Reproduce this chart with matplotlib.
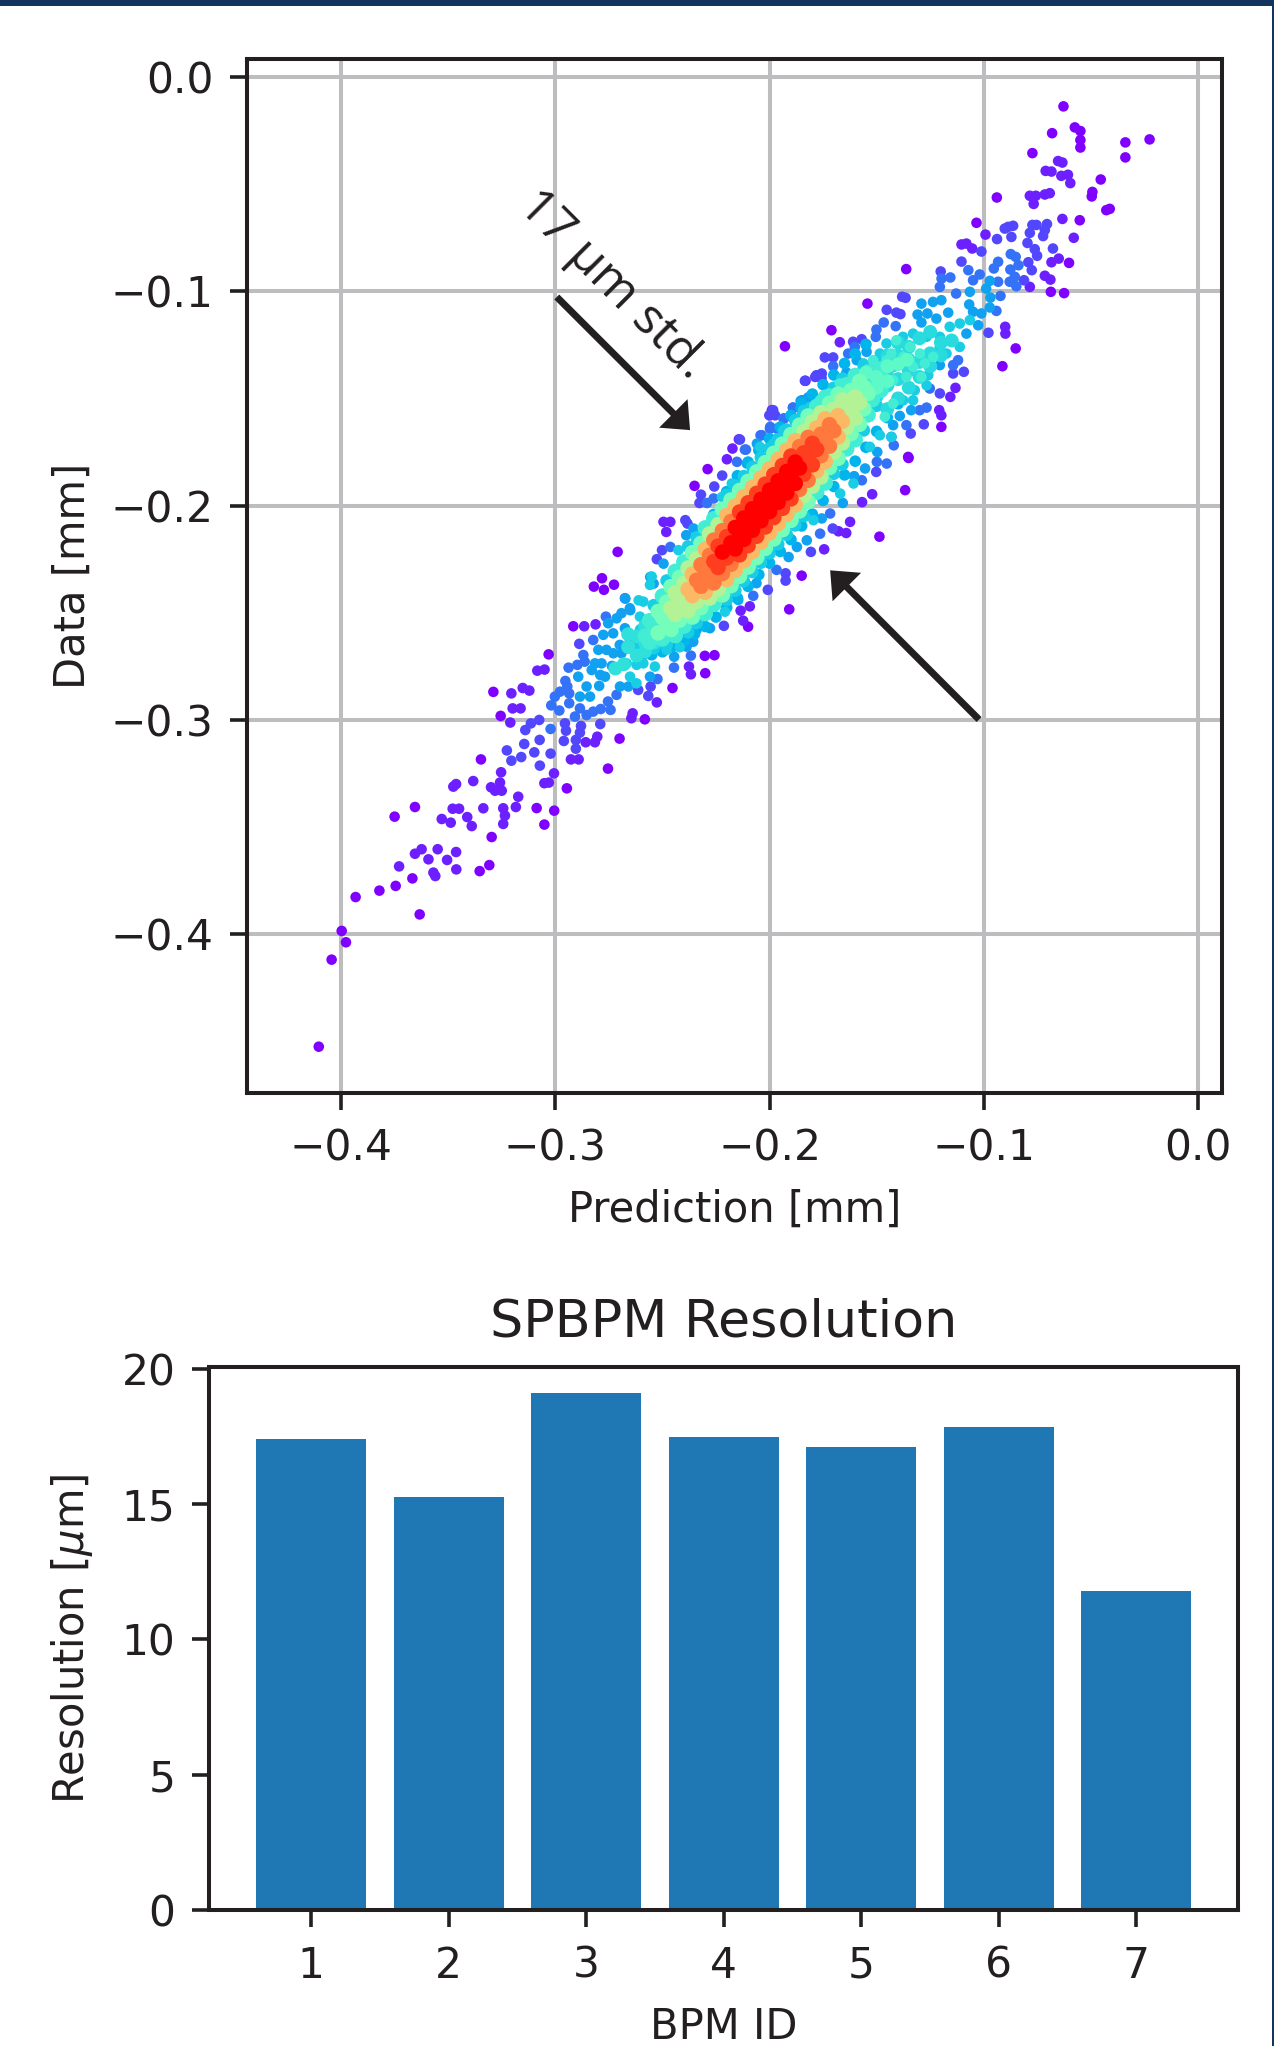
import numpy as np
import matplotlib
matplotlib.use("Agg")
import matplotlib.pyplot as plt
from matplotlib.patches import Rectangle

# scatter points, grouped by how dense the colour looks
violet_points = [
    (-.0628,-.0138),(-.0575,-.0236),(-.0549,-.0253),(-.0549,-.0295),(-.0549,-.0330),(-.0681,-.0263),
    (-.0339,-.0306),(-.0226,-.0292),(-.0339,-.0376),(-.0773,-.0356),(-.0454,-.0479),(-.0493,-.0537),
    (-.0496,-.0558),(-.0428,-.0622),(-.0412,-.0616),(-.0939,-.0563),(-.0552,-.0669),(-.1034,-.0681),
    (-.0602,-.0868),(-.0687,-.1003),(-.0625,-.1009),(-.1362,-.0897),(-.1543,-.1058),(-.0851,-.1267),
    (-.0913,-.1350),(-.1711,-.1182),(-.1928,-.1257),(-.1198,-.1633),(-.1353,-.1773),(-.1351,-.1778),
    (-.1367,-.1928),(-.1487,-.2145),(-.1850,-.2327),(-.1908,-.2484),(-.2100,-.2565),(-.2300,-.2782),
    (-.2302,-.2701),(-.2257,-.2698),(-.2453,-.2851),(-.2582,-.2997),(-.2700,-.3087),(-.2754,-.3227),
    (-.2946,-.3319),(-.2782,-.2339),(-.2820,-.2378),(-.2773,-.2393),(-.2726,-.2369),(-.2916,-.2563),
    (-.3031,-.2694),(-.3289,-.2869),(-.3255,-.2981),(-.3347,-.3184),(-.3087,-.3411),(-.3005,-.3423),
    (-.3051,-.3488),(-.3297,-.3546),(-.3353,-.3705),(-.3308,-.3677),(-.3750,-.3451),(-.3655,-.3406),
    (-.3633,-.3907),(-.3932,-.3826),(-.3821,-.3796),(-.3745,-.3774),(-.3667,-.3739),(-.3997,-.3984),
    (-.3977,-.4037),(-.4044,-.4118),(-.4104,-.4524),(-.2709,-.2216),(-.2289,-.1830),(-.2350,-.1908),
]
purple_points = [
    (-.0653,-.0393),(-.0633,-.0400),(-.0711,-.0439),(-.0684,-.0442),(-.0638,-.0462),(-.0607,-.0457),
    (-.0596,-.0496),(-.0785,-.0555),(-.0757,-.0555),(-.0767,-.0593),(-.0715,-.0549),(-.0692,-.0543),
    (-.0633,-.0663),(-.0992,-.0736),(-.0580,-.0751),(-.1104,-.0782),(-.1081,-.0778),(-.1054,-.0801),
    (-.0650,-.0848),(-.0684,-.0865),(-.0715,-.0928),(-.0689,-.0946),(-.0785,-.0980),(-.0900,-.1166),
    (-.0899,-.1198),(-.1672,-.1238),(-.1208,-.1555),(-.1198,-.1579),(-.1156,-.1493),(-.1132,-.1451),
    (-.2143,-.1691),(-.2173,-.1734),(-.2199,-.1784),(-.1989,-.1555),(-.1832,-.1418),(-.2495,-.2076),
    (-.2463,-.2076),(-.2482,-.2123),(-.1521,-.1947),(-.1568,-.1984),(-.1624,-.2076),(-.1678,-.2120),
    (-.1642,-.2128),(-.1745,-.2204),(-.2123,-.2537),(-.2135,-.2490),(-.2092,-.2470),(-.2367,-.2787),
    (-.2376,-.2751),(-.2526,-.2918),(-.2639,-.2969),(-.2645,-.2992),(-.2812,-.2554),(-.2865,-.2563),
    (-.3084,-.2770),(-.3050,-.2765),(-.3205,-.2876),(-.3152,-.2851),(-.3121,-.2863),(-.3199,-.2946),
    (-.3162,-.2946),(-.3210,-.3012),(-.2927,-.3184),(-.2891,-.3184),(-.2858,-.3104),(-.2815,-.3104),
    (-.2804,-.3078),(-.3051,-.3295),(-.3030,-.3292),(-.3006,-.3249),(-.3253,-.3244),(-.3258,-.3292),
    (-.3300,-.3314),(-.3281,-.3330),(-.3250,-.3330),(-.3173,-.3358),(-.3184,-.3406),(-.3336,-.3412),
    (-.3243,-.3412),(-.3235,-.3446),(-.3243,-.3485),(-.3476,-.3311),(-.3463,-.3299),(-.3383,-.3285),
    (-.3530,-.3462),(-.3488,-.3479),(-.3479,-.3414),(-.3449,-.3414),(-.3411,-.3453),(-.3390,-.3495),
    (-.3729,-.3683),(-.3655,-.3624),(-.3624,-.3603),(-.3549,-.3603),(-.3592,-.3650),(-.3505,-.3653),
    (-.3463,-.3616),(-.3462,-.3697),(-.3569,-.3712),(-.3560,-.3728),
]
indigo_points = [
    (-.0902,-.0708),(-.0886,-.0700),(-.0863,-.0695),(-.0773,-.0691),(-.0754,-.0691),(-.0705,-.0687),
    (-.0785,-.0728),(-.0715,-.0715),(-.0723,-.0743),(-.0938,-.0757),(-.0871,-.0747),(-.0796,-.0775),
    (-.0762,-.0804),(-.0751,-.0835),(-.0677,-.0801),(-.1011,-.0815),(-.1104,-.0862),(-.0792,-.0865),
    (-.0776,-.0902),(-.0812,-.0949),(-.1201,-.0908),(-.1381,-.1026),(-.1365,-.1031),(-.1453,-.1087),
    (-.1408,-.1100),(-.1389,-.1107),(-.0978,-.1194),(-.1143,-.1384),(-.1093,-.1376),(-.1205,-.1477),
    (-.1280,-.1621),(-.1341,-.1664),(-.1570,-.1224),(-.1610,-.1236),(-.1742,-.1309),(-.1703,-.1309),
    (-.1835,-.1418),(-.1781,-.1392),(-.1757,-.1407),(-.1983,-.1555),(-.2001,-.1579),(-.2138,-.1692),
    (-.1974,-.1579),(-.1787,-.1400),(-.1756,-.1384),(-.2221,-.1860),(-.2258,-.1911),(-.2320,-.1949),
    (-.2327,-.1988),(-.2393,-.2068),(-.2383,-.2084),(-.2502,-.2208),(-.2526,-.2250),(-.1502,-.1843),
    (-.1705,-.2107),(-.1807,-.2216),(-.2008,-.2393),(-.1925,-.2316),(-.1925,-.2350),(-.2566,-.2888),
    (-.2613,-.2860),(-.2555,-.2844),(-.2790,-.3019),(-.2880,-.3028),(-.2955,-.3016),(-.2950,-.3050),
    (-.2885,-.3059),(-.2960,-.3098),(-.2904,-.3093),(-.2904,-.3134),(-.3114,-.3016),(-.3075,-.3000),
    (-.3140,-.3047),(-.3145,-.3112),(-.3073,-.3093),(-.3226,-.3142),(-.3098,-.3151),(-.3022,-.3157),
    (-.3159,-.3173),(-.3205,-.3190),(-.3072,-.3213),(-.2888,-.2645),(-.2213,-.2561),
]
blue_points = [
    (-.0874,-.0827),(-.0851,-.0840),(-.0838,-.0879),(-.0876,-.0899),(-.0879,-.0956),(-.0848,-.0977),
    (-.0855,-.0933),(-.1156,-.0936),(-.1197,-.0941),(-.1072,-.0902),(-.1019,-.0922),(-.1050,-.0949),
    (-.1205,-.0980),(-.1129,-.1011),(-.0941,-.1092),(-.1467,-.1146),(-.1501,-.1179),(-.1504,-.1213),
    (-.1703,-.1350),(-.1633,-.1291),(-.1602,-.1260),(-.1120,-.1322),(-.1143,-.1345),(-.1252,-.1454),
    (-.1267,-.1543),(-.1299,-.1555),(-.1361,-.1625),(-.1420,-.1719),(-.1431,-.1680),(-.1932,-.1594),
    (-.1890,-.1543),(-.1998,-.1641),(-.2042,-.1672),(-.2115,-.1739),(-.1411,-.1163),(-.0922,-.1022),
    (-.0933,-.0956),(-.0953,-.0894),(-.0933,-.0863),(-.2110,-.1739),(-.2152,-.1796),(-.2036,-.1672),
    (-.1935,-.1594),(-.1997,-.1633),(-.1966,-.1641),(-.1891,-.1543),(-.1849,-.1509),(-.1818,-.1496),
    (-.2292,-.1988),(-.2261,-.1967),(-.2463,-.2193),(-.1453,-.1804),(-.1569,-.1882),(-.1499,-.1796),
    (-.1717,-.2037),(-.1764,-.2131),(-.2076,-.2421),(-.1967,-.2300),(-.3022,-.3042),(-.3019,-.2932),
    (-.2981,-.2956),(-.3002,-.2891),(-.2978,-.2868),(-.2953,-.2818),(-.2944,-.2844),(-.2935,-.2876),
    (-.2938,-.2756),(-.2897,-.2743),(-.2869,-.2697),(-.2863,-.2728),(-.2935,-.2922),(-.2908,-.2984),
    (-.2885,-.2946),(-.2854,-.2977),(-.2823,-.2961),(-.2788,-.2949),(-.2742,-.2953),(-.2754,-.2914),
    (-.2714,-.2883),(-.2523,-.2809),(-.2446,-.2756),(-.2367,-.2700),(-.2823,-.2627),(-.2764,-.2518),
    (-.2675,-.2432),
]
azure_points = [
    (-.0972,-.0952),(-.1065,-.1003),(-.0989,-.0988),(-.0969,-.1030),(-.1291,-.1058),(-.1237,-.1050),
    (-.1198,-.1042),(-.1068,-.1062),(-.0972,-.1076),(-.1309,-.1109),(-.1263,-.1104),(-.1221,-.1128),
    (-.1166,-.1100),(-.1291,-.1146),(-.1050,-.1096),(-.1011,-.1104),(-.1026,-.1159),(-.1641,-.1379),
    (-.1392,-.1582),(-.1820,-.1496),(-.1855,-.1512),(-.1843,-.1555),(-.1423,-.1625),(-.1497,-.1750),
    (-.1339,-.1555),(-.1593,-.1322),(-.1547,-.1283),(-.1081,-.1198),(-.1205,-.1345),(-.1857,-.1547),
    (-.2059,-.1711),(-.2106,-.1804),(-.2355,-.2107),(-.2389,-.2138),(-.2495,-.2271),(-.2557,-.2333),
    (-.2541,-.2364),(-.2673,-.2434),(-.2650,-.2488),(-.1605,-.1863),(-.1554,-.1827),(-.1658,-.1988),
    (-.1911,-.2240),(-.1872,-.2193),(-.1826,-.2162),(-.1756,-.2060),(-.2341,-.2580),(-.2278,-.2572),
    (-.2146,-.2440),(-.2061,-.2362),(-.2445,-.2705),(-.2356,-.2635),(-.2387,-.2658),(-.2558,-.2798),
    (-.2893,-.2798),(-.2854,-.2844),(-.2830,-.2767),(-.2838,-.2891),(-.2885,-.2891),(-.2790,-.2790),
    (-.2768,-.2798),(-.2795,-.2841),(-.2784,-.2736),(-.2815,-.2736),(-.2799,-.2673),(-.2761,-.2673),
    (-.2730,-.2596),(-.2776,-.2603),(-.2753,-.2549),(-.2714,-.2526),(-.2675,-.2572),(-.2691,-.2502),
    (-.2652,-.2479),(-.2698,-.2844),(-.2659,-.2844),(-.2736,-.2748),(-.2699,-.2650),(-.2652,-.2634),
    (-.2729,-.2689),(-.2691,-.2689),
]
rim_points = [
    (-.232,-.2146),(-.226,-.2041),(-.220,-.1935),(-.215,-.1861),(-.210,-.1797),(-.205,-.1742),
    (-.200,-.1688),(-.195,-.1634),(-.190,-.1579),(-.185,-.1525),(-.180,-.1480),(-.175,-.1436),
    (-.170,-.1391),(-.165,-.1337),(-.160,-.1293),(-.155,-.1248),
    (-.260,-.2711),(-.255,-.2696),(-.250,-.2682),(-.245,-.2657),(-.240,-.2633),(-.235,-.2599),
    (-.230,-.2564),(-.225,-.2520),(-.220,-.2475),(-.215,-.2431),(-.210,-.2377),(-.205,-.2322),
    (-.200,-.2268),(-.195,-.2214),(-.190,-.2159),(-.185,-.2095),(-.180,-.2040),(-.175,-.1976),
    (-.170,-.1911),(-.165,-.1857),(-.160,-.1793),(-.155,-.1728),(-.150,-.1654),(-.145,-.1590),
    (-.140,-.1525),
]
teal_points = [
    (-.1267,-.1213),(-.1205,-.1213),(-.1159,-.1166),(-.1112,-.1151),(-.1065,-.1135),(-.1143,-.1229),
    (-.1112,-.1260),(-.1205,-.1260),(-.1174,-.1291),(-.1330,-.1198),(-.1377,-.1213),(-.1454,-.1244),
    (-.1485,-.1291),(-.1562,-.1337),(-.1259,-.1392),(-.1267,-.1439),(-.1322,-.1462),(-.1330,-.1509),
    (-.1376,-.1509),(-.1485,-.1672),(-.1431,-.1680),(-.1532,-.1726),(-.1812,-.1540),(-.1866,-.1594),
    (-.1936,-.1649),(-.1983,-.1711),(-.2045,-.1726),(-.1865,-.1594),(-.2176,-.1897),(-.2222,-.1960),
    (-.2425,-.2208),(-.2611,-.2442),(-.1670,-.1944),(-.1608,-.1897),(-.1795,-.2068),(-.2208,-.2495),
    (-.2667,-.2736),(-.2651,-.2798),(-.2620,-.2743),(-.2589,-.2736),(-.2605,-.2673),(-.2558,-.2658),
    (-.2535,-.2751),(-.2621,-.2829),(-.2512,-.2642),(-.2481,-.2673),(-.2419,-.2661),(-.2589,-.2448),
    (-.2550,-.2331),(-.2558,-.2370),(-.2605,-.2518),
]
aqua_points = [
    (-.1236,-.1306),(-.1408,-.1229),(-.1345,-.1260),(-.1298,-.1291),(-.1377,-.1306),(-.1431,-.1291),
    (-.1516,-.1322),(-.1330,-.1353),(-.1275,-.1337),(-.1291,-.1400),(-.1434,-.1353),(-.1361,-.1400),
    (-.1423,-.1524),(-.1462,-.1586),(-.1672,-.1431),(-.1719,-.1477),(-.1765,-.1509),
    (-.1392,-.1337),(-.1345,-.1322),(-.1454,-.1322),(-.1470,-.1384),(-.1423,-.1415),
]
# the two ends of the cloud, where the dots run together
upper_end_fill = [
    (-.145,-.1300),(-.140,-.1300),(-.135,-.1260),(-.130,-.1220),(-.125,-.1190),(-.120,-.1240),
    (-.125,-.1290),(-.130,-.1330),(-.135,-.1370),(-.140,-.1410),(-.145,-.1440),(-.150,-.1490),
    (-.150,-.1370),(-.155,-.1410),(-.145,-.1370),(-.140,-.1240),(-.135,-.1320),(-.130,-.1400),
    (-.125,-.1350),(-.120,-.1300),(-.115,-.1230),(-.135,-.1450),(-.140,-.1500),(-.145,-.1550),
]
upper_end_core = [
    (-.150,-.1400),(-.145,-.1350),(-.140,-.1340),(-.145,-.1420),(-.155,-.1450),(-.150,-.1450),
    (-.155,-.1380),(-.136,-.1320),
]
lower_end_fill = [
    (-.262,-.2610),(-.258,-.2560),(-.262,-.2700),(-.258,-.2680),(-.254,-.2640),(-.250,-.2600),
    (-.266,-.2660),(-.258,-.2640),(-.254,-.2540),(-.268,-.2740),(-.272,-.2760),(-.266,-.2600),
]

# the dense middle of the cloud, as x, y and colour level
core_row_0 = [
    (-.262,-.2652,.30),(-.258,-.2609,.38),(-.254,-.2565,.38),(-.250,-.2522,.48),(-.246,-.2478,.60),
    (-.242,-.2435,.60),(-.238,-.2391,.74),(-.234,-.2348,.84),(-.230,-.2304,.84),(-.226,-.2261,.92),
    (-.222,-.2217,1),(-.218,-.2174,1),(-.214,-.2130,1),(-.210,-.2087,1),(-.206,-.2043,1),(-.202,-.2000,1),
    (-.198,-.1956,1),(-.194,-.1913,1),(-.190,-.1869,1),(-.186,-.1825,1),(-.182,-.1782,.92),(-.178,-.1738,.92),
    (-.174,-.1695,.84),(-.170,-.1651,.84),(-.166,-.1608,.74),(-.162,-.1564,.60),(-.158,-.1521,.60),
    (-.154,-.1477,.48),(-.150,-.1434,.38),(-.146,-.1390,.30),(-.142,-.1347,.30),
]
core_row_up5 = [
    (-.260,-.2581,.30),(-.256,-.2537,.38),(-.252,-.2494,.48),(-.248,-.2450,.48),(-.244,-.2407,.60),
    (-.240,-.2363,.60),(-.236,-.2320,.74),(-.232,-.2276,.84),(-.228,-.2232,.84),(-.224,-.2189,.92),
    (-.220,-.2145,.92),(-.216,-.2102,1),(-.212,-.2058,1),(-.208,-.2015,1),(-.204,-.1971,1),(-.200,-.1928,1),
    (-.196,-.1885,1),(-.192,-.1841,1),(-.188,-.1797,1),(-.184,-.1754,.92),(-.180,-.1710,.92),(-.176,-.1667,.84),
    (-.172,-.1623,.84),(-.168,-.1580,.74),(-.164,-.1536,.60),(-.160,-.1493,.60),(-.156,-.1449,.48),
    (-.152,-.1406,.38),(-.148,-.1362,.38),(-.144,-.1319,.30),
]
core_row_dn5 = [
    (-.260,-.2681,.30),(-.256,-.2637,.38),(-.252,-.2594,.48),(-.248,-.2550,.48),(-.244,-.2507,.60),
    (-.240,-.2463,.60),(-.236,-.2420,.74),(-.232,-.2376,.84),(-.228,-.2332,.84),(-.224,-.2289,.92),
    (-.220,-.2245,.92),(-.216,-.2202,1),(-.212,-.2158,1),(-.208,-.2115,1),(-.204,-.2071,1),(-.200,-.2028,1),
    (-.196,-.1985,1),(-.192,-.1941,1),(-.188,-.1897,1),(-.184,-.1854,.92),(-.180,-.1810,.92),(-.176,-.1767,.84),
    (-.172,-.1723,.84),(-.168,-.1680,.74),(-.164,-.1636,.60),(-.160,-.1593,.60),(-.156,-.1549,.48),
    (-.152,-.1506,.38),(-.148,-.1462,.38),(-.144,-.1419,.30),
]
core_row_up10 = [
    (-.254,-.2465,.30),(-.250,-.2422,.38),(-.246,-.2378,.48),(-.242,-.2335,.48),(-.238,-.2291,.60),
    (-.234,-.2248,.60),(-.230,-.2204,.74),(-.226,-.2161,.84),(-.222,-.2117,.84),(-.218,-.2074,.84),
    (-.214,-.2030,.92),(-.210,-.1987,.92),(-.206,-.1943,.92),(-.202,-.1900,.92),(-.198,-.1856,.92),
    (-.194,-.1813,.92),(-.190,-.1769,.92),(-.186,-.1725,.84),(-.182,-.1682,.84),(-.178,-.1638,.74),
    (-.174,-.1595,.74),(-.170,-.1551,.60),(-.166,-.1508,.60),(-.162,-.1464,.48),(-.158,-.1421,.48),
    (-.154,-.1377,.38),(-.150,-.1334,.30),
]
core_row_dn10 = [
    (-.254,-.2665,.30),(-.250,-.2622,.38),(-.246,-.2578,.48),(-.242,-.2535,.48),(-.238,-.2491,.60),
    (-.234,-.2448,.60),(-.230,-.2404,.74),(-.226,-.2361,.84),(-.222,-.2317,.84),(-.218,-.2274,.84),
    (-.214,-.2230,.92),(-.210,-.2187,.92),(-.206,-.2143,.92),(-.202,-.2100,.92),(-.198,-.2056,.92),
    (-.194,-.2013,.92),(-.190,-.1969,.92),(-.186,-.1925,.84),(-.182,-.1882,.84),(-.178,-.1838,.74),
    (-.174,-.1795,.74),(-.170,-.1751,.60),(-.166,-.1708,.60),(-.162,-.1664,.48),(-.158,-.1621,.48),
    (-.154,-.1577,.38),(-.150,-.1534,.30),
]
core_row_up15 = [
    (-.248,-.2350,.30),(-.244,-.2307,.38),(-.240,-.2263,.38),(-.236,-.2220,.48),(-.232,-.2176,.48),
    (-.228,-.2132,.60),(-.224,-.2089,.60),(-.220,-.2045,.74),(-.216,-.2002,.74),(-.212,-.1958,.74),
    (-.208,-.1915,.74),(-.204,-.1871,.74),(-.200,-.1828,.74),(-.196,-.1785,.74),(-.192,-.1741,.74),
    (-.188,-.1697,.74),(-.184,-.1654,.60),(-.180,-.1610,.60),(-.176,-.1567,.60),(-.172,-.1523,.48),
    (-.168,-.1480,.48),(-.164,-.1436,.38),(-.160,-.1393,.38),(-.156,-.1349,.30),
]
core_row_dn15 = [
    (-.248,-.2650,.30),(-.244,-.2607,.38),(-.240,-.2563,.38),(-.236,-.2520,.48),(-.232,-.2476,.48),
    (-.228,-.2432,.60),(-.224,-.2389,.60),(-.220,-.2345,.74),(-.216,-.2302,.74),(-.212,-.2258,.74),
    (-.208,-.2215,.74),(-.204,-.2171,.74),(-.200,-.2128,.74),(-.196,-.2085,.74),(-.192,-.2041,.74),
    (-.188,-.1997,.74),(-.184,-.1954,.60),(-.180,-.1910,.60),(-.176,-.1867,.60),(-.172,-.1823,.48),
    (-.168,-.1780,.48),(-.164,-.1736,.38),(-.160,-.1693,.38),(-.156,-.1649,.30),
]
core_row_up20 = [
    (-.238,-.2191,.30),(-.234,-.2148,.30),(-.230,-.2104,.38),(-.226,-.2061,.38),(-.222,-.2017,.48),
    (-.218,-.1974,.48),(-.214,-.1930,.48),(-.210,-.1887,.48),(-.206,-.1843,.48),(-.202,-.1800,.48),
    (-.198,-.1756,.48),(-.194,-.1713,.48),(-.190,-.1669,.48),(-.186,-.1625,.48),(-.182,-.1582,.48),
    (-.178,-.1538,.38),(-.174,-.1495,.38),(-.170,-.1451,.30),(-.166,-.1408,.30),
]
core_row_dn20 = [
    (-.238,-.2591,.30),(-.234,-.2548,.30),(-.230,-.2504,.38),(-.226,-.2461,.38),(-.222,-.2417,.48),
    (-.218,-.2374,.48),(-.214,-.2330,.48),(-.210,-.2287,.48),(-.206,-.2243,.48),(-.202,-.2200,.48),
    (-.198,-.2156,.48),(-.194,-.2113,.48),(-.190,-.2069,.48),(-.186,-.2025,.48),(-.182,-.1982,.48),
    (-.178,-.1938,.38),(-.174,-.1895,.38),(-.170,-.1851,.30),(-.166,-.1808,.30),
]
core_row_up25 = [
    (-.220,-.1950,.30),(-.216,-.1907,.30),(-.212,-.1863,.30),(-.208,-.1820,.30),(-.204,-.1776,.30),
    (-.200,-.1733,.30),(-.196,-.1690,.30),(-.192,-.1646,.30),(-.188,-.1602,.30),(-.184,-.1559,.30),
]
core_row_dn25 = [
    (-.220,-.2440,.30),(-.216,-.2397,.30),(-.212,-.2353,.30),(-.208,-.2310,.30),(-.204,-.2266,.30),
    (-.200,-.2223,.30),(-.196,-.2180,.30),(-.192,-.2136,.30),(-.188,-.2092,.30),(-.184,-.2049,.30),
]

scatter_ticks = [-0.4, -0.3, -0.2, -0.1, 0.0]

bpm_ids = [1, 2, 3, 4, 5, 6, 7]
resolution_um = [17.41, 15.24, 19.09, 17.46, 17.12, 17.84, 11.77]
resolution_ticks = [0, 5, 10, 15, 20]

text_color = '#231f20'
grid_color = '#bdbdc0'

plt.rcParams['font.family'] = 'DejaVu Sans'
plt.rcParams['mathtext.default'] = 'it'
plt.rcParams['text.color'] = text_color
plt.rcParams['axes.labelcolor'] = text_color
plt.rcParams['xtick.color'] = text_color
plt.rcParams['ytick.color'] = text_color
plt.rcParams['axes.edgecolor'] = text_color

W, H = 1274, 2046
fig = plt.figure(figsize=(W / 100, H / 100), dpi=100)
fig.add_artist(Rectangle((0, 1 - 6 / H), 1, 6 / H, transform=fig.transFigure, color='#14335f', lw=0))
fig.add_artist(Rectangle((1 - 2 / W, 0), 2 / W, 1, transform=fig.transFigure, color='#14335f', lw=0))


def make_axes(left, top, right, bottom):
    return fig.add_axes([left / W, 1 - bottom / H, (right - left) / W, (bottom - top) / H])


def style_axes(ax):
    for spine in ax.spines.values():
        spine.set_linewidth(2.9)
    ax.tick_params(labelsize=30.5, length=12, width=2.6)
    ax.tick_params(axis='x', pad=13)
    ax.tick_params(axis='y', pad=12)


# top panel
ax = make_axes(247, 59, 1222, 1093)
style_axes(ax)

bands = [(violet_points, 0.0, 58), (purple_points, 0.04, 58), (indigo_points, 0.09, 58),
         (blue_points, 0.15, 58), (azure_points, 0.22, 58), (rim_points, 0.25, 70),
         (teal_points, 0.30, 58), (upper_end_fill, 0.33, 100), (lower_end_fill, 0.34, 100),
         (aqua_points, 0.38, 58), (upper_end_core, 0.43, 100)]
xs, ys, zs, sizes = [], [], [], []
for pts, level, size in bands:
    for x, y in pts:
        xs.append(x)
        ys.append(y)
        zs.append(level)
        sizes.append(size)
core_rows = [core_row_0, core_row_up5, core_row_dn5, core_row_up10, core_row_dn10, core_row_up15,
             core_row_dn15, core_row_up20, core_row_dn20, core_row_up25, core_row_dn25]
for row in core_rows:
    for x, y, level in row:
        xs.append(x)
        ys.append(y)
        zs.append(level)
        # the rows sit further apart than the real dots, so the inner ones are drawn fatter to close up
        sizes.append(125 if level > 0.3 else 85)
xs, ys, zs, sizes = np.array(xs), np.array(ys), np.array(zs), np.array(sizes)
order = np.argsort(zs, kind='stable')
ax.scatter(xs[order], ys[order], c=zs[order], s=sizes[order], cmap='rainbow', vmin=0, vmax=1,
           linewidths=0, zorder=3)

ax.set_xlim(-0.4439, 0.0112)
ax.set_ylim(-0.474, 0.0083)
ax.set_xticks(scatter_ticks)
ax.set_yticks(scatter_ticks)
ax.grid(True, color=grid_color, linewidth=2.9, zorder=0)
ax.set_axisbelow(True)
ax.set_xlabel('Prediction [mm]', fontsize=30, labelpad=14)
ax.set_ylabel('Data [mm]', fontsize=30, labelpad=12)

arrow_style = dict(facecolor=text_color, edgecolor='none', width=5, headwidth=29, headlength=17, shrink=0)
ax.annotate('', xy=(-0.2371, -0.1648), xytext=(-0.2993, -0.1027), arrowprops=arrow_style, zorder=4)
ax.annotate('', xy=(-0.1717, -0.2302), xytext=(-0.1022, -0.2998), arrowprops=arrow_style, zorder=4)
ax.text(-0.2735, -0.0972, '17 µm std.', rotation=-45, rotation_mode='anchor', ha='center', va='center',
        fontsize=36, family='Open Sans', zorder=4)

# bottom panel
ax2 = make_axes(209, 1367, 1238, 1910)
style_axes(ax2)
ax2.bar(bpm_ids, resolution_um, width=0.8, color='#1f77b4')
ax2.set_xlim(0.257, 7.74)
ax2.set_ylim(0, 20.06)
ax2.set_xticks(bpm_ids)
ax2.set_yticks(resolution_ticks)
ax2.set_title('SPBPM Resolution', fontsize=37.7, pad=22, color=text_color)
ax2.set_xlabel('BPM ID', fontsize=30, labelpad=14)
ax2.set_ylabel(r'Resolution [$\mu$m]', fontsize=30, labelpad=19)

fig.savefig('out.png', dpi=100, facecolor='white')
